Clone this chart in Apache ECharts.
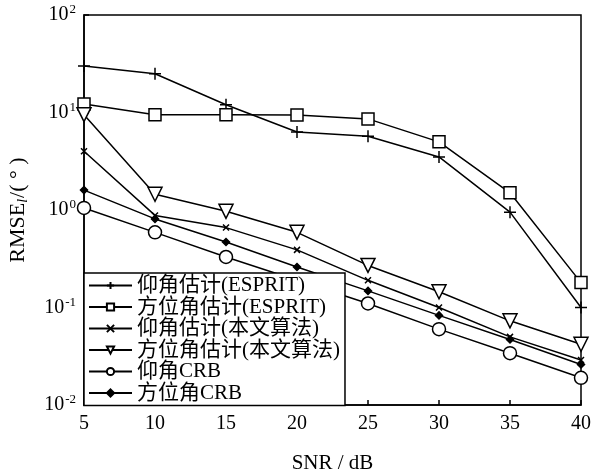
<!DOCTYPE html>
<html>
<head>
<meta charset="utf-8">
<script src="https://cdn.jsdelivr.net/npm/echarts@6/dist/echarts.min.js"></script>
<style>
html,body{margin:0;padding:0;background:#fff;}
#c{width:593px;height:473px;}
</style>
</head>
<body>
<div id="c"></div>
<script>
var snr = [5, 10, 15, 20, 25, 30, 35, 40];
var elevEsprit = [30, 25, 12, 6.3, 5.7, 3.5, 0.95, 0.1];
var aziEsprit = [12.2, 9.5, 9.5, 9.4, 8.6, 5.0, 1.5, 0.18];
var elevProp = [4.0, 0.88, 0.66, 0.39, 0.19, 0.1, 0.05, 0.029];
var aziProp = [9.5, 1.45, 0.97, 0.59, 0.27, 0.145, 0.073, 0.042];
var elevCRB = [1.05, 0.59, 0.33, 0.19, 0.11, 0.06, 0.034, 0.019];
var aziCRB = [1.6, 0.81, 0.47, 0.26, 0.148, 0.083, 0.047, 0.026];
var seriesNames = ['仰角估计(ESPRIT)', '方位角估计(ESPRIT)', '仰角估计(本文算法)', '方位角估计(本文算法)', '仰角CRB', '方位角CRB'];

var FONT = "'Liberation Serif', 'Times New Roman', 'Noto Sans CJK SC', serif";
var PLUS = 'path://M0,-1L0,1M-1,0L1,0';
var CROSS = 'path://M-1,-1L1,1M-1,1L1,-1';

function pairs(arr) { return snr.map(function (x, i) { return [x, arr[i]]; }); }

function mk(name, data, symbol, size, fill, rotate) {
  return {
    name: name, type: 'line', data: pairs(data),
    symbol: symbol, symbolSize: size, symbolRotate: rotate || 0,
    showAllSymbol: true,
    lineStyle: { color: '#000', width: 1.5 },
    itemStyle: { color: fill, borderColor: '#000', borderWidth: 1.5 },
    emphasis: { disabled: true },
    z: 3
  };
}

var chart = echarts.init(document.getElementById('c'), null, { renderer: 'canvas' });
chart.setOption({
  animation: false,
  backgroundColor: '#fff',
  grid: { left: 84, right: 12, top: 15, bottom: 68, outerBoundsMode: 'none', containLabel: false, show: true, borderColor: '#000', borderWidth: 1.5, backgroundColor: 'transparent' },
  xAxis: {
    type: 'value', min: 5, max: 40, interval: 5,
    name: 'SNR / dB', nameLocation: 'middle', nameGap: 48,
    nameTextStyle: { fontFamily: FONT, fontSize: 21, color: '#000' },
    axisLine: { lineStyle: { color: '#000', width: 1.5 } },
    axisTick: { inside: true, length: 5, lineStyle: { color: '#000', width: 1.5 } },
    axisLabel: { fontFamily: FONT, fontSize: 20, color: '#000', margin: 9 },
    splitLine: { show: false }
  },
  yAxis: {
    type: 'log', logBase: 10, min: 0.01, max: 100,
    name: 'RMSE{sub|l}/( ° )', nameLocation: 'middle', nameGap: 54,
    nameTextStyle: {
      fontFamily: FONT, fontSize: 22, color: '#000',
      rich: { sub: { fontFamily: FONT, fontSize: 14, fontStyle: 'italic', verticalAlign: 'bottom', padding: [9, 1, 0, 0] } }
    },
    axisLine: { lineStyle: { color: '#000', width: 1.5 } },
    axisTick: { inside: true, length: 5, lineStyle: { color: '#000', width: 1.5 } },
    axisLabel: {
      fontFamily: FONT, fontSize: 20, color: '#000', margin: 8,
      formatter: function (v) { return '10{sup|' + Math.round(Math.log10(v)) + '}'; },
      rich: { sup: { fontFamily: FONT, fontSize: 13, color: '#000', verticalAlign: 'top', padding: [0, 0, 10, 1] } }
    },
    splitLine: { show: false }
  },
  legend: {
    orient: 'vertical', left: 84, top: 273, z: 10,
    backgroundColor: '#fff', borderColor: '#000', borderWidth: 1.5, borderRadius: 0,
    padding: [2, 5, 2, 4], itemGap: 0.5, itemWidth: 43, itemHeight: 9,
    textStyle: { fontFamily: FONT, fontSize: 21, color: '#000' },
    data: seriesNames,
    selectedMode: false
  },
  series: [
    mk(seriesNames[0], elevEsprit, PLUS, 12, '#000'),
    mk(seriesNames[1], aziEsprit, 'rect', 12, '#fff'),
    mk(seriesNames[2], elevProp, CROSS, 6, '#000'),
    mk(seriesNames[3], aziProp, 'triangle', 14, '#fff', 180),
    mk(seriesNames[4], elevCRB, 'circle', 13, '#fff'),
    mk(seriesNames[5], aziCRB, 'diamond', 7, '#000')
  ]
});
</script>
</body>
</html>
